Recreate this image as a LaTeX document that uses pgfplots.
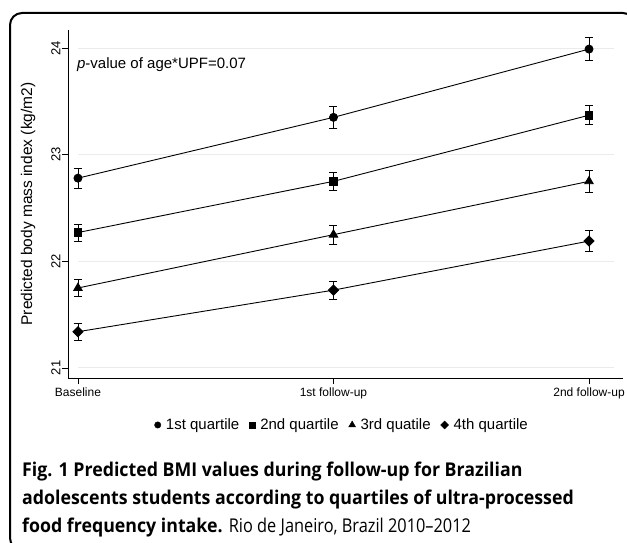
\documentclass[border=0pt]{standalone}
\usepackage{fontspec}
\setmainfont{Liberation Sans}
\newfontfamily\capfont{Open Sans}[FakeStretch=0.935]
\newfontfamily\capcond{Open Sans}[FakeStretch=0.86]
\usepackage{pgfplots}
\pgfplotsset{compat=1.18}

\pgfplotstableread{
x y e
0 22.78 0.095
1 23.35 0.100
2 23.99 0.105
}\qone
\pgfplotstableread{
x y e
0 22.27 0.080
1 22.75 0.085
2 23.37 0.090
}\qtwo
\pgfplotstableread{
x y e
0 21.75 0.080
1 22.25 0.090
2 22.75 0.100
}\qthree
\pgfplotstableread{
x y e
0 21.34 0.080
1 21.73 0.085
2 22.19 0.100
}\qfour

\begin{document}
\begin{tikzpicture}
\useasboundingbox (0pt,0pt) rectangle (627pt,542pt);
\clip (0pt,0pt) rectangle (627pt,542pt);
\draw[line width=2pt, rounded corners=12pt] (10pt,529pt) rectangle (635pt,-8pt);
\begin{axis}[
  at={(68pt,164pt)}, anchor=south west,
  scale only axis, width=555pt, height=348pt,
  xmin=-0.039, xmax=2.133, ymin=20.906, ymax=24.169,
  axis x line*=bottom, axis y line*=left,
  axis line style={-, line width=0.8pt},
  xtick={0,1,2}, xticklabels={Baseline,1st follow-up,2nd follow-up},
  ytick={21,22,23,24},
  tick align=outside, major tick length=6pt,
  tick style={black, line width=0.8pt},
  /pgf/number format/assume math mode=true,
  xticklabel style={font=\fontsize{12}{14}\selectfont},
  yticklabel style={rotate=90, anchor=south, font=\fontsize{13}{15}\selectfont},
  yticklabel shift=-2pt,
  ylabel={Predicted body mass index (kg/m2)},
  every axis y label/.style={at={(axis description cs:-0.072,0.5)}, rotate=90, anchor=center, font=\fontsize{15.5}{18}\selectfont},
  legend style={at={(axis description cs:0.494,-0.135)}, anchor=center, draw=none, fill=none,
    font=\fontsize{15}{18}\selectfont,
    /tikz/every odd column/.append style={column sep=3pt},
    /tikz/every even column/.append style={column sep=8pt}},
  legend columns=4,
  legend image code/.code={\draw[#1] plot coordinates {(0pt,0pt)};},
]
\draw[black!8, line width=1pt] (axis cs:0,21) -- (axis cs:2.098,21);
\draw[black!8, line width=1pt] (axis cs:0,22) -- (axis cs:2.098,22);
\draw[black!8, line width=1pt] (axis cs:0,23) -- (axis cs:2.098,23);
\draw[black!8, line width=1pt] (axis cs:0,24) -- (axis cs:2.098,24);

\addlegendimage{only marks, black, mark=*, mark size=3.2pt}
\addlegendentry{1st quartile}
\addlegendimage{only marks, black, mark=square*, mark size=3pt}
\addlegendentry{2nd quartile}
\addlegendimage{only marks, black, mark=triangle*, mark size=4pt}
\addlegendentry{3rd quatile}
\addlegendimage{only marks, black, mark=square*, mark size=2.8pt, mark options={rotate=45}}
\addlegendentry{4th quartile}

\pgfplotsset{every error bar/.append style={line width=0.9pt}}
\addplot[black, line width=0.9pt, mark=*, mark size=4pt, forget plot,
  error bars/.cd, y dir=both, y explicit,
  error mark options={rotate=90, mark size=4pt, line width=0.9pt, black}]
  table[x=x, y=y, y error=e] {\qone};
\addplot[black, line width=0.9pt, mark=square*, mark size=3.8pt, forget plot,
  error bars/.cd, y dir=both, y explicit,
  error mark options={rotate=90, mark size=4pt, line width=0.9pt, black}]
  table[x=x, y=y, y error=e] {\qtwo};
\addplot[black, line width=0.9pt, mark=triangle*, mark size=4.8pt, forget plot,
  error bars/.cd, y dir=both, y explicit,
  error mark options={rotate=90, mark size=4pt, line width=0.9pt, black}]
  table[x=x, y=y, y error=e] {\qthree};
\addplot[black, line width=0.9pt, mark=square*, mark size=3.54pt, mark options={rotate=45}, forget plot,
  error bars/.cd, y dir=both, y explicit,
  error mark options={rotate=90, mark size=4pt, line width=0.9pt, black}]
  table[x=x, y=y, y error=e] {\qfour};

\node[anchor=west, inner sep=0, font=\fontsize{15}{18}\selectfont] at (axis cs:-0.004,23.84) {\textit{p}-value of age*UPF=0.07};
\end{axis}
\begin{scope}[every node/.style={anchor=base west, inner sep=0, font=\capfont\bfseries\fontsize{19}{23}\selectfont}]
\node at (22pt,66pt) {Fig. 1 Predicted BMI values during follow-up for Brazilian};
\node at (22pt,38pt) {adolescents students according to quartiles of ultra-processed};
\node at (22pt,10pt) {food frequency intake. {\capcond\mdseries Rio de Janeiro, Brazil 2010–2012}};
\end{scope}
\end{tikzpicture}
\end{document}
